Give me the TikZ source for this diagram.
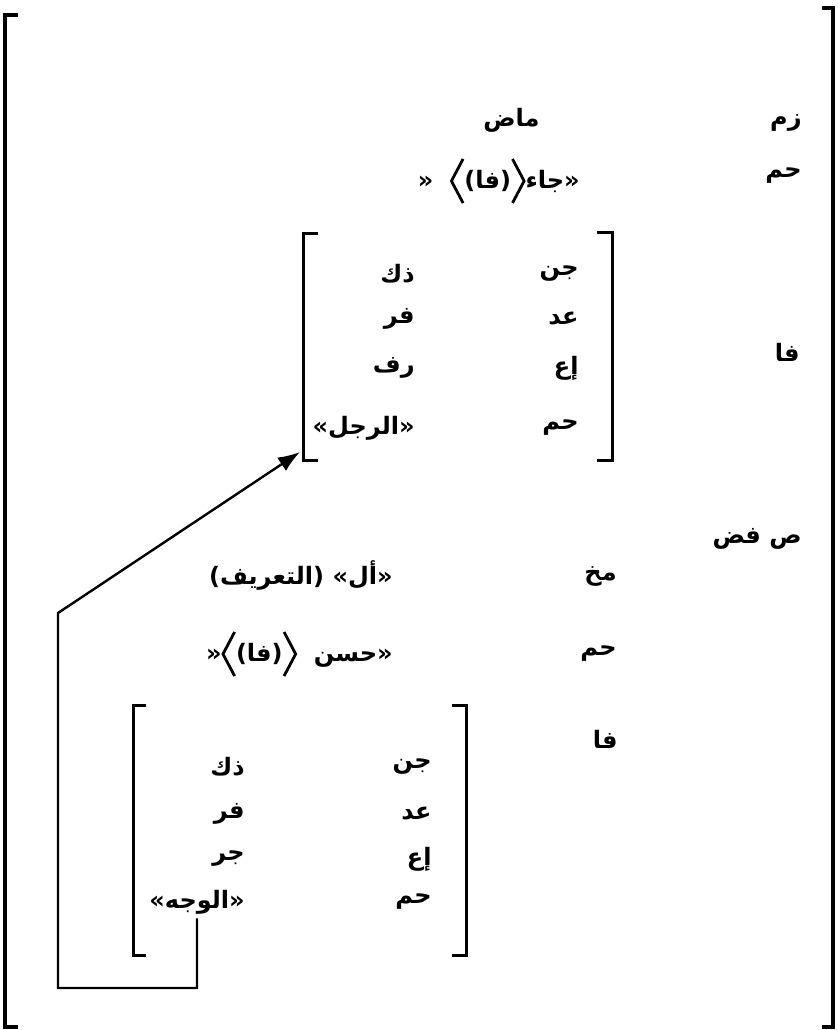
\documentclass[tikz,border=0pt]{standalone}
\usepackage{fontspec}
\setmainfont{DejaVu Sans}
\newfontfamily\arabicfont[Script=Arabic]{DejaVu Sans}
\TeXXeTstate=1
\usetikzlibrary{arrows.meta}
% tall angle brackets around the argument list
\newcommand\opnang{\tikz[baseline=0pt]\draw[line width=1.4pt] (7pt,14.5pt) -- (1.2pt,3.5pt) -- (7pt,-7.5pt);}
\newcommand\clsang{\tikz[baseline=0pt]\draw[line width=1.4pt] (1pt,14.5pt) -- (6.8pt,3.5pt) -- (1pt,-7.5pt);}

\begin{document}
\begin{tikzpicture}[x=0.5pt,y=-0.5pt,
  ar/.style={font=\arabicfont\bfseries\fontsize{12}{15}\selectfont,
             inner sep=0pt, anchor=east, yshift=-3pt},
  outerbrk/.style={line width=1.9pt},
  brk/.style={line width=1.5pt},
  link/.style={line width=1.2pt}]
\useasboundingbox (0,0) rectangle (838,1030);

% outer attribute-value matrix
\draw[outerbrk] (18,15) -- (5,15) -- (5,1027) -- (18,1027);
\draw[outerbrk] (822,8) -- (833,8) -- (833,1027) -- (822,1027);

% top level
\node[ar] (zm)    at (802,117) {\beginR زم\endR};
\node[ar] (madi)  at (540,114) {\beginR ماض\endR};
\node[ar] (hm1)   at (802,170) {\beginR حم\endR};
\node[ar] (pred1) at (580,175) {«\ \ \opnang(فا)\clsang«جاء};
\node[ar] (fa1)   at (800,346) {\beginR فا\endR};

% subject matrix
\draw[brk] (318,233) -- (303,233) -- (303,460) -- (318,460);
\draw[brk] (597,232) -- (612,232) -- (612,460) -- (597,460);
\node[ar] (jn1) at (579,268) {\beginR جن\endR};
\node[ar] (dk1) at (415,268) {\beginR ذك\endR};
\node[ar] (ad1) at (579,313) {\beginR عد\endR};
\node[ar] (fr1) at (415,313) {\beginR فر\endR};
\node[ar] (ia1) at (579,362) {\beginR إع\endR};
\node[ar] (rf1) at (415,362) {\beginR رف\endR};
\node[ar] (hm2) at (579,422) {\beginR حم\endR};
\node[ar] (rajul) at (415,422) {\beginR «الرجل»\endR};
\coordinate (avm1-sw) at (300,452);

% adjunct
\node[ar] (sfd)   at (802,533) {\beginR ص فض\endR};
\node[ar] (mk)    at (617,570) {\beginR مخ\endR};
\node[ar] (tarif) at (393,570) {\beginR «أل» (التعريف)\endR};
\node[ar] (hm3)   at (617,648) {\beginR حم\endR};
\node[ar] (pred2) at (393,648) {«\opnang(فا)\clsang\ \ «حسن};
\node[ar] (fa2)   at (618,733) {\beginR فا\endR};

% adjunct's subject matrix
\draw[brk] (146,705) -- (133,705) -- (133,955) -- (146,955);
\draw[brk] (452,705) -- (466,705) -- (466,955) -- (452,955);
\node[ar] (jn2) at (432,761) {\beginR جن\endR};
\node[ar] (dk2) at (245,761) {\beginR ذك\endR};
\node[ar] (ad2) at (432,808) {\beginR عد\endR};
\node[ar] (fr2) at (245,808) {\beginR فر\endR};
\node[ar] (ia2) at (432,853) {\beginR إع\endR};
\node[ar] (jr2) at (245,853) {\beginR جر\endR};
\node[ar] (hm4) at (432,896) {\beginR حم\endR};
\node[ar] (wajh) at (245,896) {\beginR «الوجه»\endR};

% structure sharing link
\coordinate (lb) at (58,988);
\coordinate (lt) at (58,613);
\draw[link, -{Latex[length=11pt,width=8pt]}]
  ([yshift=-2pt]wajh.south) -- (wajh.south |- lb) -- (lb) -- (lt) -- (avm1-sw);
\end{tikzpicture}
\end{document}
